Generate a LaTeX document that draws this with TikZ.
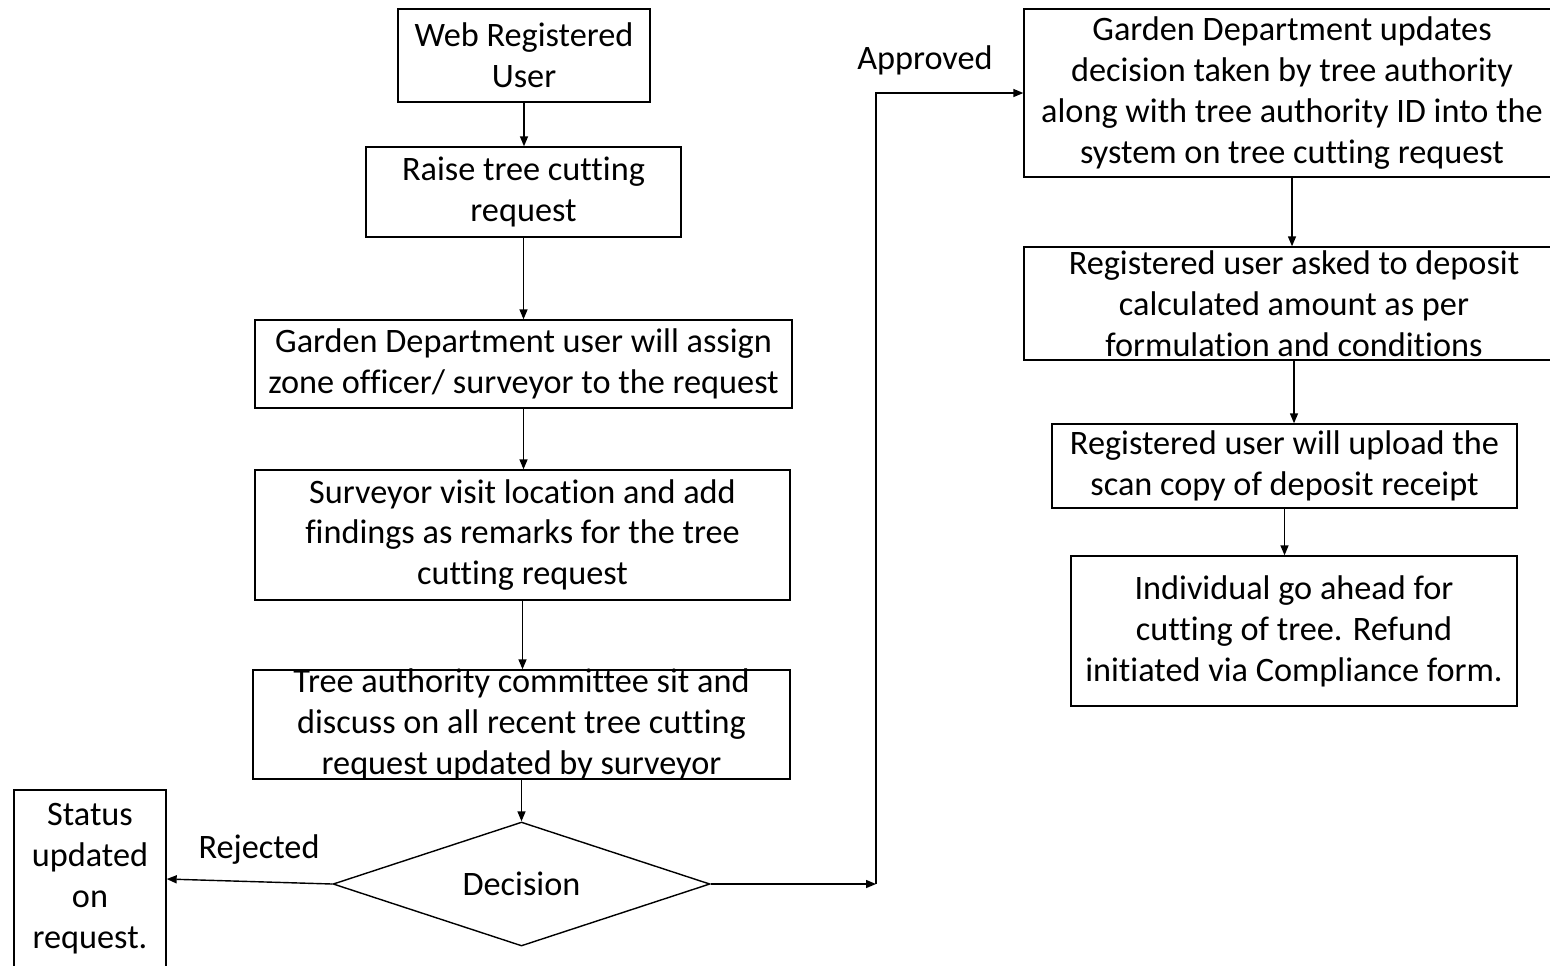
\documentclass[tikz,border=0pt]{standalone}
\usepackage{fontspec}
\setmainfont{Carlito}[Ligatures=NoCommon]
\usetikzlibrary{shapes.geometric,arrows.meta}

\begin{document}
\begin{tikzpicture}[x=0.02cm,y=-0.02cm,
    line width=0.8pt,
    >={Triangle[length=0.2cm,width=0.16cm]},
    every node/.style={font=\fontsize{19.5}{23.3}\selectfont},
    stepbox/.style={draw,rectangle,align=center,inner sep=0pt},
    choice/.style={draw,diamond,aspect=3,inner sep=0pt}]
      \useasboundingbox (0,0) rectangle (1550,965);
      \clip (0,0) rectangle (1550,965);

      % left column
      \node[stepbox,minimum width=5.04cm,minimum height=1.86cm] (web) at (524,55.5) {Web Registered\\User};
      \node[stepbox,minimum width=6.3cm,minimum height=1.8cm] (raise) at (523.5,192) {Raise tree cutting\\request};
      \node[stepbox,minimum width=10.74cm,minimum height=1.76cm] (assign) at (523.5,364) {Garden Department user will assign\\zone officer/ surveyor to the request};
      \node[stepbox,minimum width=10.7cm,minimum height=2.6cm] (survey) at (522.5,535) {Surveyor visit location and add\\findings as remarks for the tree\\cutting request};
      \node[stepbox,minimum width=10.74cm,minimum height=2.18cm,inner ysep=-4pt] (authority) at (521.5,724.5) {Tree authority committee sit and\\discuss on all recent tree cutting\\request updated by surveyor};
      \node[choice,minimum width=7.54cm,minimum height=2.48cm] (decision) at (521.5,884) {Decision};
      \node[stepbox,minimum width=3.04cm,minimum height=3.56cm] (status) at (90,879) {Status\\updated\\on\\request.};

      % right column
      \node[stepbox,minimum width=10.72cm,minimum height=3.36cm] (updates) at (1292,93) {Garden Department updates\\decision taken by tree authority\\along with tree authority ID into the\\system on tree cutting request};
      \node[stepbox,minimum width=10.8cm,minimum height=2.26cm,inner ysep=-4pt] (deposit) at (1294,303.5) {Registered user asked to deposit\\calculated amount as per\\formulation and conditions};
      \node[stepbox,minimum width=9.3cm,minimum height=1.68cm] (upload) at (1284.5,466) {Registered user will upload the\\scan copy of deposit receipt};
      \node[stepbox,minimum width=8.92cm,minimum height=3cm] (individual) at (1294,631) {Individual go ahead for\\cutting of tree. Refund\\initiated via Compliance form.};

      \node (approved) at (925,60) {Approved};
      \node (rejected) at (259,850) {Rejected};
      \coordinate (turn) at (876,884);

      \def \Edges {
        web/raise,
        raise/assign,
        assign/survey,
        survey/authority,
        authority/decision,
        updates/deposit,
        deposit/upload,
        upload/individual}

      \foreach \from / \to in \Edges {
        \draw[->] (\from) -- (\from |- \to.north);
      }
      \draw[->] (decision.east) -- (turn);
      \draw[->] (turn) |- (updates.west);
      \draw[->] (decision.west) -- (status.east);
    \end{tikzpicture}
\end{document}
